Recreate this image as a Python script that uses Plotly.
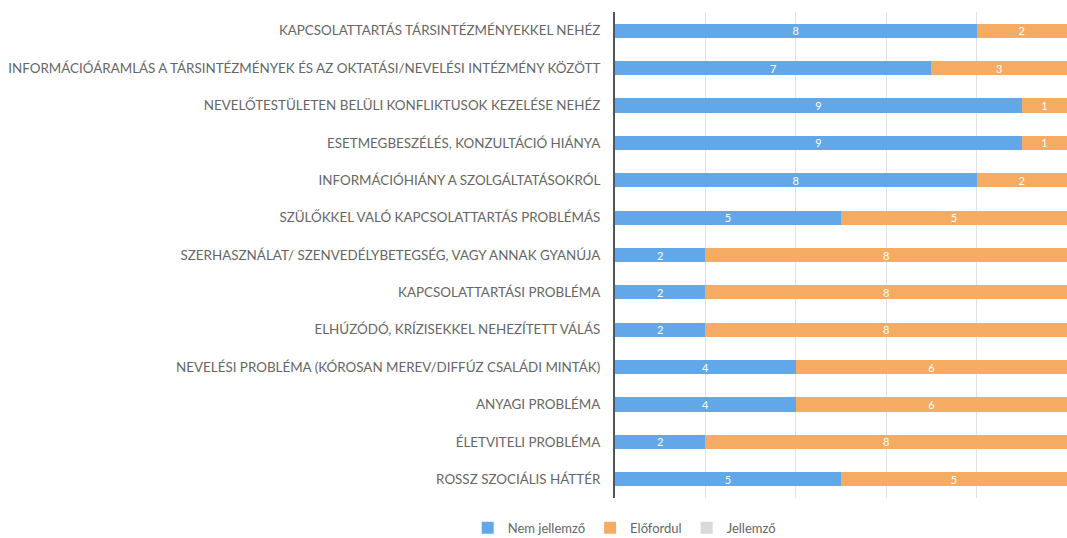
import plotly.graph_objects as go

categories = [
    "KAPCSOLATTARTÁS TÁRSINTÉZMÉNYEKKEL NEHÉZ",
    "INFORMÁCIÓÁRAMLÁS A TÁRSINTÉZMÉNYEK ÉS AZ OKTATÁSI/NEVELÉSI INTÉZMÉNY KÖZÖTT",
    "NEVELŐTESTÜLETEN BELÜLI KONFLIKTUSOK KEZELÉSE NEHÉZ",
    "ESETMEGBESZÉLÉS, KONZULTÁCIÓ HIÁNYA",
    "INFORMÁCIÓHIÁNY A SZOLGÁLTATÁSOKRÓL",
    "SZÜLŐKKEL VALÓ KAPCSOLATTARTÁS PROBLÉMÁS",
    "SZERHASZNÁLAT/ SZENVEDÉLYBETEGSÉG, VAGY ANNAK GYANÚJA",
    "KAPCSOLATTARTÁSI PROBLÉMA",
    "ELHÚZÓDÓ, KRÍZISEKKEL NEHEZÍTETT VÁLÁS",
    "NEVELÉSI PROBLÉMA (KÓROSAN MEREV/DIFFÚZ CSALÁDI MINTÁK)",
    "ANYAGI PROBLÉMA",
    "ÉLETVITELI PROBLÉMA",
    "ROSSZ SZOCIÁLIS HÁTTÉR",
]
nem_jellemzo = [8, 7, 9, 9, 8, 5, 2, 2, 2, 4, 4, 2, 5]
elofordul = [2, 3, 1, 1, 2, 5, 8, 8, 8, 6, 6, 8, 5]
jellemzo = [0, 0, 0, 0, 0, 0, 0, 0, 0, 0, 0, 0, 0]

series_names = ["Nem jellemző", "Előfordul", "Jellemző"]
colors = ["#62A8E8", "#F6AB63", "#D9D9D9"]

fig = go.Figure()
for name, vals, col, show_text in zip(series_names, [nem_jellemzo, elofordul, jellemzo], colors, [True, True, False]):
    fig.add_trace(go.Bar(
        y=categories, x=vals, name=name, orientation="h",
        marker=dict(color=col, line=dict(width=0)),
        text=[str(v) for v in vals] if show_text else None,
        textposition="inside" if show_text else "none",
        insidetextanchor="middle",
        textangle=0,
        textfont=dict(color="white", size=11, family="Lato"),
        constraintext="none",
        hoverinfo="skip",
    ))

fig.update_layout(
    barmode="stack",
    bargap=0.62,
    width=1067, height=538,
    margin=dict(l=615, r=0, t=12, b=40, autoexpand=False),
    paper_bgcolor="white", plot_bgcolor="white",
    font=dict(family="Lato", color="#666666", size=13),
    uniformtext=dict(minsize=8, mode="show"),
    legend=dict(orientation="h", xref="container", yref="container",
                x=0.585, xanchor="center", y=0.019, yanchor="middle",
                font=dict(size=13, color="#666666"), traceorder="normal",
                itemwidth=30),
    xaxis=dict(range=[0, 10], showticklabels=False, showgrid=True, gridcolor="#E3E3E3",
               gridwidth=1, dtick=2, zeroline=False, showline=False, fixedrange=True),
    yaxis=dict(autorange="reversed", showline=True, linecolor="#555555", linewidth=2,
               ticks="", ticklabelstandoff=10, tickfont=dict(size=13.4, color="#666666"),
               fixedrange=True),
)
fig.write_html("out.html", config={"displayModeBar": False},
               post_script="document.body.style.margin='0';document.body.style.overflow='hidden';")
